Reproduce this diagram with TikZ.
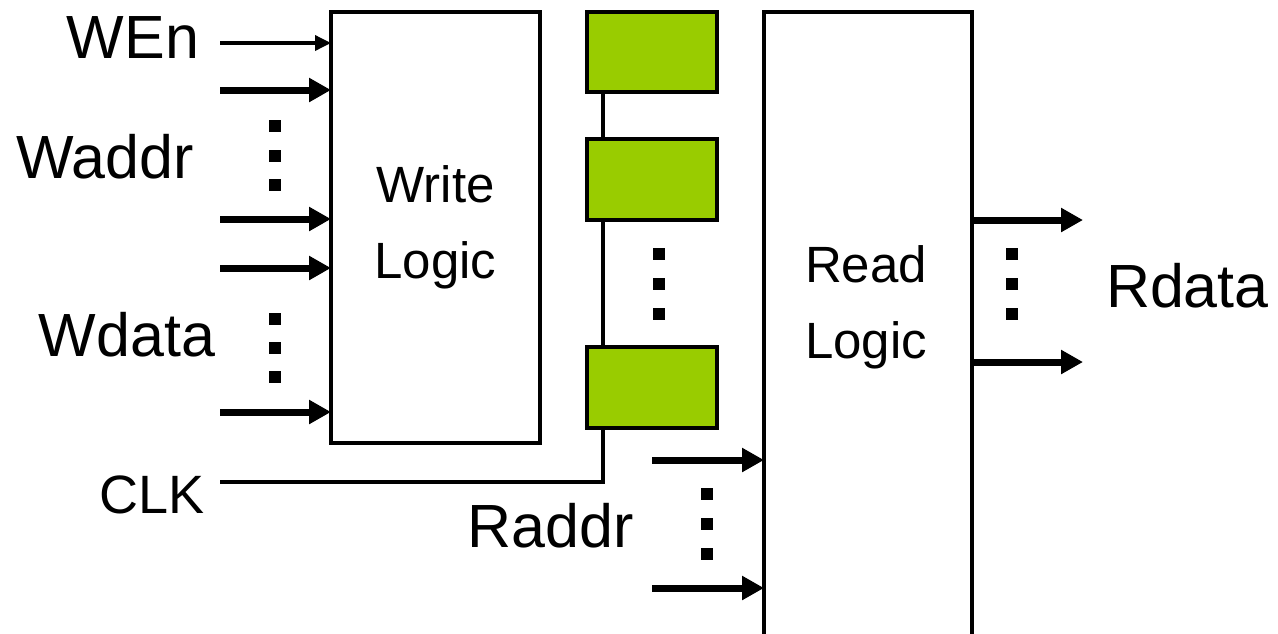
\documentclass[tikz,border=0pt]{standalone}
\usepackage{fontspec}
\setmainfont{Liberation Sans}
\usetikzlibrary{arrows.meta}

\tikzset{
  logicbox/.style={draw, line width=3.5pt, inner sep=0pt, outer sep=0pt, align=center,
    font=\fontsize{51}{76}\selectfont},
  regbox/.style={draw, line width=4pt, fill=regfill, inner sep=0pt, outer sep=0pt,
    minimum width=130pt, minimum height=81pt},
  bus/.style={line width=3.5pt},
  bitin/.style={line width=3.5pt, -{Triangle[length=16pt,width=15pt]}},
  wordin/.style={line width=7pt, -{Triangle[length=22pt,width=23pt]}},
  sig/.style={inner sep=0pt, outer sep=0pt, font=\fontsize{61}{70}\selectfont},
}
\definecolor{regfill}{HTML}{99CC00}

\begin{document}
\begin{tikzpicture}[x=1pt, y=-1pt]
  \useasboundingbox (0,0) rectangle (1278,633);
  \clip (0,0) rectangle (1278,633);

  % logic blocks
  \node[logicbox, minimum width=209pt, minimum height=431pt] (wl) at (435.5,227.5) {Write\\Logic};
  \node[logicbox, minimum width=208pt, minimum height=648pt] (rl) at (868,336) {};
  \node[inner sep=0pt, align=center, font=\fontsize{51}{76}\selectfont] (rltext) at (866,307) {Read\\Logic};

  % register column
  \node[regbox, minimum height=80pt] (r1) at (652,52) {};
  \node[regbox] (r2) at (652,179.5) {};
  \node[regbox] (r3) at (652,387.5) {};
  \coordinate (busx) at (603,0);
  \coordinate (clk) at (220,482);
  \draw[bus] (r1.south -| busx) -- (r2.north -| busx);
  \draw[bus] (r2.south -| busx) -- (r3.north -| busx);
  \draw[bus] (clk) -| (r3.south -| busx);

  % write-side inputs
  \coordinate (wen) at (220,43);
  \coordinate (wa1) at (220,90);
  \coordinate (wa2) at (220,219);
  \coordinate (wd1) at (220,268);
  \coordinate (wd2) at (220,412);
  \draw[bitin] (wen) -- (wl.west |- wen);
  \foreach \p in {wa1,wa2,wd1,wd2}
    \draw[wordin] (\p) -- (wl.west |- \p);

  % read address inputs
  \coordinate (ra1) at (652,460);
  \coordinate (ra2) at (652,588);
  \draw[wordin] (ra1) -- (rl.west |- ra1);
  \draw[wordin] (ra2) -- (rl.west |- ra2);

  % read data outputs
  \coordinate (rd1) at (1083,220);
  \coordinate (rd2) at (1083,362);
  \draw[wordin] (rl.east |- rd1) -- (rd1);
  \draw[wordin] (rl.east |- rd2) -- (rd2);

  % ellipsis dots
  \foreach \x/\y in {275/126,275/156,275/185, 275/319,275/348,275/377,
                     659/254,659/284,659/314, 707/494,707/524,707/554,
                     1012/254,1012/284,1012/314}
    \fill (\x-6,\y-6) rectangle (\x+6,\y+6);

  % signal names
  \node[sig, anchor=base east] (lwen) at (199,58) {WEn};
  \node[sig, anchor=base east] (lwaddr) at (194,178) {Waddr};
  \node[sig, anchor=base east] (lwdata) at (215,356) {Wdata};
  \node[sig, anchor=base east, font=\fontsize{54}{62}\selectfont] (lclk) at (205,513) {CLK};
  \node[sig, anchor=base east] (lraddr) at (634,547) {Raddr};
  \node[sig, anchor=base west] (lrdata) at (1106,307) {Rdata};
\end{tikzpicture}
\end{document}
